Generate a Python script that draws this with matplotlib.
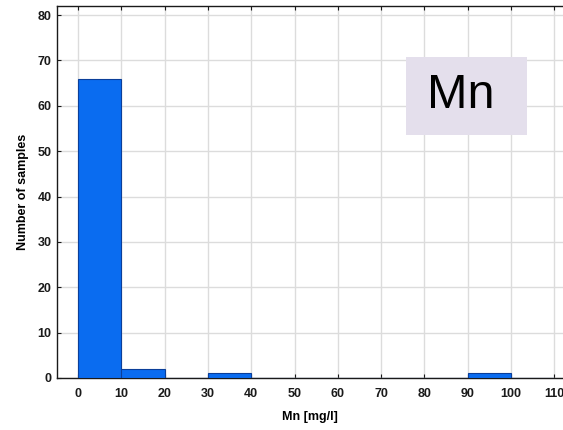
import matplotlib
matplotlib.use("Agg")
import matplotlib.pyplot as plt
from matplotlib.patches import Rectangle

# Histogram of Mn concentrations: bin edges and sample counts
bin_edges = [0, 10, 20, 30, 40, 50, 60, 70, 80, 90, 100, 110]
counts = [66, 2, 0, 1, 0, 0, 0, 0, 0, 1, 0]
x_ticks = [0, 10, 20, 30, 40, 50, 60, 70, 80, 90, 100, 110]
y_ticks = [0, 10, 20, 30, 40, 50, 60, 70, 80]

plt.rcParams['font.family'] = ['Liberation Sans Narrow', 'Liberation Sans', 'DejaVu Sans']

fig = plt.figure(figsize=(5.63, 4.30), dpi=100)
ax = fig.add_axes([57 / 563, 52 / 430, 1 - 57 / 563, (378 - 6) / 430])

ax.hist(bin_edges[:-1], bins=bin_edges, weights=counts,
        color='#0a6cf0', edgecolor='#0b3f9a', linewidth=0.8, zorder=3)

ax.set_xlim(-4.85, 112)
ax.set_ylim(0, 82)
ax.set_xticks(x_ticks)
ax.set_yticks(y_ticks)
ax.grid(True, color='#dcdcdc', linewidth=1.0, zorder=0)
ax.set_axisbelow(True)

for side in ('top', 'bottom', 'left'):
    ax.spines[side].set_color('#1a1a1a')
    ax.spines[side].set_linewidth(1.0)
ax.spines['right'].set_visible(False)

ax.tick_params(axis='both', direction='in', length=3, width=0.8, colors='#1a1a1a',
               labelsize=9, top=True)
ax.tick_params(axis='x', pad=7)
ax.tick_params(axis='y', pad=4)
for lbl in ax.get_xticklabels() + ax.get_yticklabels():
    lbl.set_fontweight('bold')

ax.set_xlabel('Mn [mg/l]', fontsize=9, fontweight='bold', labelpad=8,
              family=['Liberation Sans', 'DejaVu Sans'])
ax.set_ylabel('Number of samples', fontsize=9, fontweight='bold', labelpad=6,
              family=['Liberation Sans', 'DejaVu Sans'])

# Element label box
fig.patches.append(Rectangle((406 / 563, 1 - 135 / 430), 121 / 563, 78 / 430,
                             transform=fig.transFigure, facecolor='#e4dfec',
                             edgecolor='none', zorder=5))
fig.text(427 / 563, 1 - 96 / 430, 'Mn', fontsize=35, va='center', ha='left',
         family=['Liberation Sans', 'DejaVu Sans'], color='black', zorder=6)

fig.savefig('out.png', dpi=100)
